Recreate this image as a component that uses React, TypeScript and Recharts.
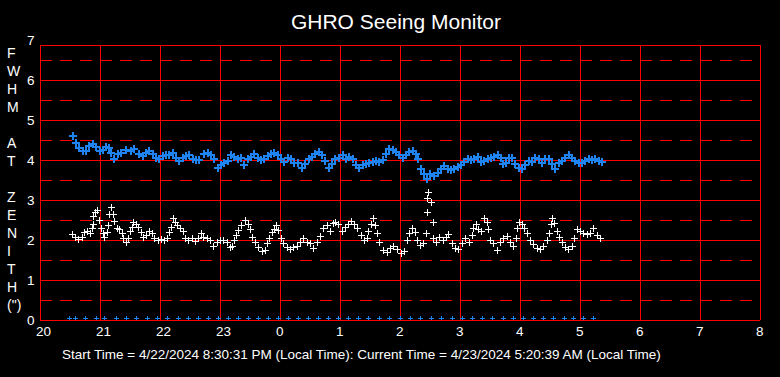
import React from 'react';
import { ScatterChart, Scatter, XAxis, YAxis, CartesianGrid, ReferenceLine } from 'recharts';

// ---- axes ----
const HOUR_TICKS = [20, 21, 22, 23, 24, 25, 26, 27, 28, 29, 30, 31, 32];
const FWHM_TICKS = [0, 1, 2, 3, 4, 5, 6, 7];
const GRID_LEVELS = [0, 1, 2, 3, 4, 5, 6, 6.875];
const HALF_LEVELS = [0.5, 1.5, 2.5, 3.5, 4.5, 5.5, 6.5];
const Y_MAX = 6.875;

const TITLE = 'GHRO Seeing Monitor';
const Y_LABEL_LINES = ['F', 'W', 'H', 'M', '', 'A', 'T', '', 'Z', 'E', 'N', 'I', 'T', 'H', '(")'];
const FOOTER = 'Start Time = 4/22/2024 8:30:31 PM (Local Time): Current Time = 4/23/2024 5:20:39 AM (Local Time)';

// ---- series: minutes after 20:00 local, FWHM in arcsec ----
const BLUE_MIN = [
  32, 35, 38, 42, 45, 48, 52, 55, 59, 62, 65, 68, 70, 73, 77, 80, 85, 90, 93, 98, 102, 105, 108, 112, 115, 118, 122, 125, 128, 132, 135, 138, 142, 145, 148, 152, 155, 158,
  163, 167, 170, 173, 177, 180, 183, 187, 190, 193, 197, 200, 203, 207, 210, 213, 217, 220, 223, 227, 230, 233, 237, 240, 243, 247, 250, 253, 257, 261, 264, 268, 271, 274, 278, 281, 284, 288, 291, 294,
  298, 302, 305, 308, 312, 315, 318, 322, 325, 328, 332, 335, 338, 342, 345, 348, 352, 355, 358, 362, 365, 368, 372, 375, 377, 380, 383, 386, 389, 393, 397, 400, 403, 407, 410, 413, 417, 420, 423, 427,
  430, 433, 437, 440, 443, 447, 450, 453, 457, 460, 462, 465, 468, 471, 474, 478, 481, 484, 488, 491, 494, 498, 501, 504, 508, 511, 514, 518, 521, 524, 528, 531, 534, 538, 541, 544, 548, 551, 554, 558, 561,
];
const BLUE_VAL = [
  4.62, 4.46, 4.33, 4.25, 4.25, 4.37, 4.42, 4.36, 4.25, 4.28, 4.36, 4.33, 4.21, 4.06, 4.17, 4.21, 4.28, 4.25, 4.29, 4.17, 4.12, 4.21, 4.25, 4.17, 4.08, 4.04, 4.12, 4.14, 4.14, 4.19, 4.08, 4.0, 4.08, 4.12, 4.14, 4.06, 4.02, 4.02,
  4.17, 4.21, 4.14, 4.04, 3.83, 3.89, 3.94, 4.0, 4.14, 4.11, 4.06, 4.08, 3.89, 4.04, 4.11, 4.17, 4.08, 4.03, 4.06, 4.12, 4.17, 4.19, 4.14, 4.04, 3.98, 4.08, 4.04, 3.96, 3.94, 3.83, 3.92, 4.06, 4.11, 4.17, 4.22, 4.14, 4.0, 3.83, 3.92, 4.04,
  4.08, 4.14, 4.04, 4.11, 4.06, 3.89, 3.83, 3.89, 3.92, 3.94, 3.98, 4.0, 3.98, 4.03, 4.17, 4.29, 4.28, 4.22, 4.14, 4.08, 4.14, 4.22, 4.25, 4.17, 4.04, 3.79, 3.67, 3.56, 3.67, 3.62, 3.71, 3.81, 3.87, 3.81, 3.78, 3.79, 3.86, 3.89, 3.98, 4.06,
  4.03, 4.06, 4.11, 3.98, 4.0, 4.04, 4.08, 4.11, 4.14, 4.08, 3.92, 3.94, 4.08, 4.08, 3.92, 3.83, 3.81, 3.89, 4.0, 3.98, 4.08, 4.06, 3.94, 4.04, 4.06, 3.92, 3.81, 3.96, 4.0, 4.08, 4.14, 4.08, 4.0, 3.96, 3.94, 4.0, 4.04, 4.03, 4.04, 4.0, 3.98,
];

const WHITE_MIN = [
  32, 35, 38, 42, 44, 47, 50, 52, 53, 53, 55, 57, 59, 61, 63, 64, 67, 68, 69, 71, 73, 74, 77, 79, 82, 83, 86, 88, 90, 92, 93, 96, 98, 101, 103, 106, 109, 112, 114, 118, 121, 124, 127, 129, 131, 133, 135, 137, 140, 143, 145, 148, 152, 155, 158,
  161, 163, 167, 170, 173, 177, 180, 183, 187, 190, 192, 194, 196, 198, 201, 205, 208, 210, 212, 215, 218, 222, 225, 227, 229, 232, 234, 236, 238, 241, 243, 247, 250, 253, 257, 260, 263, 267, 270, 273, 277, 280, 283, 287, 290, 293,
  295, 298, 302, 305, 308, 311, 314, 317, 321, 324, 327, 328, 331, 333, 335, 337, 339, 343, 347, 350, 353, 357, 361, 364, 367, 369, 372, 375, 377, 380, 383,
  386, 387, 387, 388, 391, 393, 393, 396, 399, 403, 406, 408, 412, 415, 418, 422, 425,
  429, 432, 433, 436, 438, 441, 444, 447, 448, 450, 453, 457, 460, 463, 467, 470, 473, 476, 477, 479, 482, 484, 487, 490, 493, 497, 500, 503, 507, 509, 511, 512, 514, 517, 519, 522, 525, 528, 532, 534, 537, 540, 543, 547, 550, 553, 557, 560,
];
const WHITE_VAL = [
  2.14, 2.08, 2.03, 2.08, 2.21, 2.22, 2.17, 2.29, 2.39, 2.61, 2.69, 2.75, 2.5, 2.31, 2.17, 2.08, 2.21, 2.37, 2.64, 2.83, 2.64, 2.48, 2.31, 2.28, 2.17, 2.04, 1.94, 2.04, 2.22, 2.33, 2.44, 2.39, 2.33, 2.19, 2.08, 2.12, 2.22, 2.17, 2.04, 2.0, 2.03, 2.0, 2.04, 2.19, 2.33, 2.56, 2.46, 2.37, 2.29, 2.22, 2.04, 2.0, 2.04, 1.98, 2.04,
  2.17, 2.08, 2.04, 2.0, 1.86, 1.94, 2.0, 2.0, 1.94, 1.83, 1.86, 2.0, 2.12, 2.25, 2.37, 2.5, 2.39, 2.28, 2.08, 1.96, 1.83, 1.72, 1.75, 1.92, 2.06, 2.19, 2.28, 2.37, 2.25, 2.06, 1.92, 1.83, 1.78, 1.83, 1.86, 1.96, 2.04, 1.96, 1.92, 1.81, 1.94, 2.11, 2.29, 2.37, 2.22, 2.42,
  2.44, 2.39, 2.22, 2.33, 2.39, 2.48, 2.39, 2.29, 2.12, 2.0, 2.04, 2.22, 2.39, 2.54, 2.37, 2.17, 1.96, 1.75, 1.71, 1.81, 1.86, 1.78, 1.67, 1.72, 2.0, 2.17, 2.29, 2.19, 2.0, 1.88, 1.92,
  2.17, 2.69, 3.06, 3.21, 2.94, 2.46, 2.04, 1.94, 2.08, 2.0, 2.08, 2.14, 1.92, 1.81, 1.78, 1.92, 2.04,
  1.94, 2.12, 2.29, 2.39, 2.28, 2.22, 2.56, 2.44, 2.28, 2.0, 1.92, 1.75, 1.94, 2.04, 2.11, 1.96, 1.86, 2.04, 2.29, 2.46, 2.39, 2.29, 2.17, 2.0, 1.89, 1.81, 1.78, 1.86, 2.0, 2.17, 2.39, 2.56, 2.42, 2.22, 2.08, 1.94, 1.83, 1.78, 1.86, 2.04, 2.28, 2.22, 2.17, 2.14, 2.17, 2.29, 2.12, 2.04,
];

// status markers along the bottom
const STATUS_MIN = [
  29, 35, 45, 56, 64, 76, 86, 96, 107, 117, 127, 138, 148, 158, 168, 178, 188, 198, 208, 218, 228, 238, 248, 258, 268, 278, 288, 298, 308, 318, 328, 339, 349,
  360, 370, 380, 391, 401, 412, 422, 432, 442, 452, 463, 473, 483, 493, 503, 513, 524, 533, 543, 553,
];
const STATUS_LEVEL = 0.06;

const BLUE = '#1f84f0';
const RED = '#ff0000';
const FONT = '"Liberation Sans", Arial, sans-serif';

const toHour = (m: number) => 20 + m / 60;
const blueData = BLUE_MIN.map((m, i) => ({ x: toHour(m), y: BLUE_VAL[i] }));
const whiteData = WHITE_MIN.map((m, i) => ({ x: toHour(m), y: WHITE_VAL[i] }));
const statusData = STATUS_MIN.map((m) => ({ x: toHour(m), y: STATUS_LEVEL }));

const makeCross = (color: string, arm: number, width: number) => (props: any) => {
  const cx = Math.round(props.cx) + 0.5;
  const cy = Math.round(props.cy) + 0.5;
  return (
    <path
      d={`M${cx - arm},${cy}H${cx + arm}M${cx},${cy - arm}V${cy + arm}`}
      stroke={color}
      strokeWidth={width}
      fill="none"
    />
  );
};

const XTick = (props: any) => {
  const { x, y, payload } = props;
  return (
    <text x={x - 4} y={y + 15.5} fill="#ffffff" fontSize={13.5} fontFamily={FONT} textAnchor="start">
      {String(payload.value % 24)}
    </text>
  );
};

const YTick = (props: any) => {
  const { x, y, payload } = props;
  return (
    <text x={x - 5.5} y={y + 4.8} fill="#ffffff" fontSize={13.5} fontFamily={FONT} textAnchor="end">
      {String(payload.value)}
    </text>
  );
};

export default function App() {
  return (
    <div style={{ position: 'absolute', left: 0, top: 0, width: 780, height: 377, background: '#000000', fontFamily: FONT }}>
      <div style={{ position: 'absolute', left: 0, top: 9, width: 792, textAlign: 'center', color: '#ffffff', fontSize: 21, lineHeight: '25px' }}>
        {TITLE}
      </div>
      <div style={{ position: 'absolute', left: 7, top: 44, color: '#ffffff', fontSize: 14, lineHeight: '18px' }}>
        {Y_LABEL_LINES.map((l, i) => (
          <div key={i} style={{ height: 18 }}>{l}</div>
        ))}
      </div>
      <div style={{ position: 'absolute', left: 62, top: 346, color: '#ffffff', fontSize: 13.5, lineHeight: '17px', whiteSpace: 'pre' }}>
        {FOOTER}
      </div>
      <div style={{ position: 'absolute', left: 0, top: 0, shapeRendering: 'crispEdges' } as any}>
        <ScatterChart width={780} height={377} margin={{ top: 45, right: 20, bottom: 27, left: 0 }}>
          <CartesianGrid stroke={RED} strokeWidth={1} horizontalValues={GRID_LEVELS} verticalValues={HOUR_TICKS} fill="none" />
          {HALF_LEVELS.map((v) => (
            <ReferenceLine key={v} y={v} stroke={RED} strokeWidth={1} strokeDasharray="12 8" />
          ))}
          <XAxis
            type="number"
            dataKey="x"
            domain={[20, 32]}
            ticks={HOUR_TICKS}
            interval={0}
            axisLine={false}
            tickLine={false}
            tickSize={0}
            tickMargin={0}
            height={30}
            tick={<XTick />}
            allowDataOverflow
          />
          <YAxis
            type="number"
            dataKey="y"
            domain={[0, Y_MAX]}
            ticks={FWHM_TICKS}
            interval={0}
            axisLine={false}
            tickLine={false}
            tickSize={0}
            tickMargin={0}
            width={40}
            tick={<YTick />}
            allowDataOverflow
          />
          <Scatter data={statusData} shape={makeCross(BLUE, 2.5, 1)} isAnimationActive={false} />
          <Scatter data={blueData} shape={makeCross(BLUE, 4, 2)} isAnimationActive={false} />
          <Scatter data={whiteData} shape={makeCross('#ffffff', 3.5, 1.3)} isAnimationActive={false} />
        </ScatterChart>
      </div>
    </div>
  );
}
